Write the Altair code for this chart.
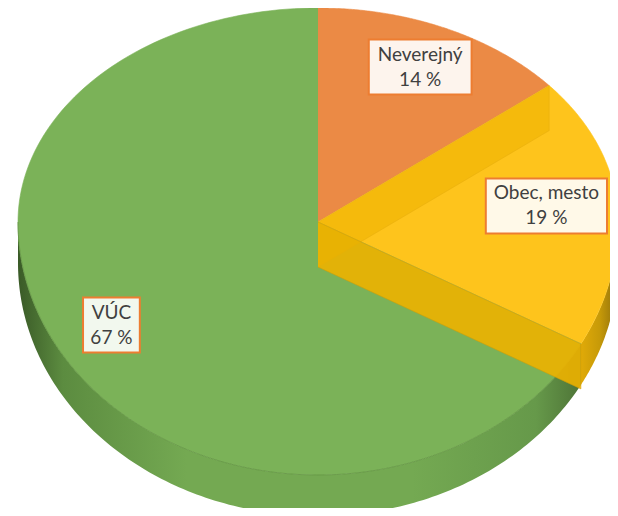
import altair as alt
import pandas as pd

# ---- data ----
categories = ["Neverejný", "Obec, mesto", "VÚC"]
values = [14, 19, 67]
top_colors = ["#eb8a45", "#fec41c", "#7bb258"]

df = pd.DataFrame({"cat": categories, "val": values, "idx": list(range(len(categories)))})

# ---- geometry (pixels, perspective approximated by two half-ellipses) ----
W, H = 602, 500
CX, CY = 310, 214     # pie centre inside the plot area
RX = 300              # horizontal radius
RYT, RYB = 214, 253   # far (top) and near (bottom) vertical radius
D = 41                # depth of the 3-D pie
N = 160               # arc resolution
LR = 0.8              # label radius (fraction)

xdom = [-CX, W - CX]
ydom = [-(H - CY), CY]

X = alt.X("px:Q", scale=alt.Scale(domain=xdom, nice=False, zero=False), axis=None)
Y = alt.Y("py:Q", scale=alt.Scale(domain=ydom, nice=False, zero=False), axis=None)

def ey(angle):
    return f"(cos({angle}) * (cos({angle}) > 0 ? {RYT} : {RYB}))"

def ex(angle):
    return f"({RX} * sin({angle}))"

base = (
    alt.Chart(df)
    .transform_joinaggregate(total="sum(val)")
    .transform_window(cum="sum(val)", frame=[None, 0], sort=[alt.SortField("idx")])
    .transform_calculate(
        s="2*PI*(datum.cum - datum.val)/datum.total",
        e="2*PI*datum.cum/datum.total",
    )
)

# ---- outer side walls (front half only) ----
def side_layer(cat, stops):
    return (
        base.transform_filter(alt.datum.cat == cat)
        .transform_calculate(ss="max(datum.s, PI/2)", ee="min(datum.e, 3*PI/2)")
        .transform_filter("datum.ss < datum.ee")
        .transform_calculate(i=f"sequence(0, {2 * N + 2})")
        .transform_flatten(["i"])
        .transform_calculate(
            a=f"datum.i <= {N} ? datum.ss + (datum.ee - datum.ss)*datum.i/{N} "
              f": datum.ee - (datum.ee - datum.ss)*(datum.i - {N + 1})/{N}"
        )
        .transform_calculate(
            px=ex("datum.a"),
            py=f"{ey('datum.a')} - (datum.i <= {N} ? 0 : {D})",
        )
        .mark_line(
            fill=alt.LinearGradient(
                gradient="linear",
                stops=[alt.GradientStop(color=c, offset=o) for o, c in stops],
                x1=0, x2=1, y1=0, y2=0,
            ),
            strokeWidth=0,
        )
        .encode(x=X, y=Y, order="i:Q")
    )

side_green = side_layer(
    "VÚC",
    [(0, "#3a5a27"), (0.08, "#5c8c40"), (0.3, "#74a952"), (0.7, "#74a952"), (0.92, "#66994a"), (1, "#4e7437")],
)
side_yellow = side_layer(
    "Obec, mesto",
    [(0, "#e0aa08"), (0.5, "#c79a08"), (1, "#8d6e0c")],
)

# ---- top faces ----
top = (
    base.transform_calculate(i=f"sequence(0, {N + 2})")
    .transform_flatten(["i"])
    .transform_calculate(a=f"datum.s + (datum.e - datum.s)*(datum.i - 1)/{N}")
    .transform_calculate(
        px=f"datum.i == 0 ? 0 : {ex('datum.a')}",
        py=f"datum.i == 0 ? 0 : {ey('datum.a')}",
    )
    .mark_line(strokeWidth=0.6)
    .encode(
        x=X,
        y=Y,
        order="i:Q",
        detail="cat:N",
        fill=alt.Fill("cat:N", scale=alt.Scale(domain=categories, range=top_colors), legend=None),
        stroke=alt.Stroke("cat:N", scale=alt.Scale(domain=categories, range=top_colors), legend=None),
    )
)

# front rim line of the top face
rim = (
    base.transform_filter(alt.datum.cat == "VÚC")
    .transform_calculate(ss="max(datum.s, PI/2)", ee="min(datum.e, 3*PI/2)")
    .transform_calculate(i=f"sequence(0, {N + 1})")
    .transform_flatten(["i"])
    .transform_calculate(a=f"datum.ss + (datum.ee - datum.ss)*datum.i/{N}")
    .transform_calculate(px=ex("datum.a"), py=ey("datum.a"))
    .mark_line(stroke="#5f9040", strokeWidth=1, opacity=0.7)
    .encode(x=X, y=Y, order="i:Q")
)

# ---- cut faces of the "Obec, mesto" slice seen through ----
cut = (
    base.transform_filter(alt.datum.cat == "Obec, mesto")
    .transform_calculate(i="sequence(0, 8)")
    .transform_flatten(["i"])
    .transform_calculate(k="floor(datum.i/4)", j="datum.i % 4")
    .transform_calculate(a="datum.k == 0 ? datum.s : datum.e")
    .transform_calculate(
        px=f"(datum.j == 1 || datum.j == 2) ? {ex('datum.a')} : 0",
        py=f"((datum.j == 1 || datum.j == 2) ? {ey('datum.a')} : 0) - ((datum.j >= 2) ? {D + 4} : 0)",
        op="datum.k == 0 ? 0.55 : 0.9",
    )
    .mark_line(fill="#eeb200", stroke="#d9a000", strokeWidth=0.6)
    .encode(
        x=X, y=Y, order="j:Q", detail="k:N",
        opacity=alt.Opacity("op:Q", scale=None),
    )
)

# ---- labels ----
lab = base.transform_calculate(
    m="(datum.s + datum.e)/2",
    pct="round(100*datum.val/datum.total) + ' %'",
).transform_calculate(
    hw="(max(length(datum.cat), length(datum.pct))*9.2 + 20)/2",
    rawx=f"{LR}*{ex('datum.m')}",
    py=f"{LR}*{ey('datum.m')}",
    lines="[datum.cat, datum.pct]",
).transform_calculate(
    # keep each label box inside the chart area
    px=f"clamp(datum.rawx, {-CX + 12} + datum.hw, {W - CX - 3} - datum.hw)",
).transform_calculate(
    bx1="datum.px - datum.hw",
    bx2="datum.px + datum.hw",
    by1="datum.py - 27.5",
    by2="datum.py + 27.5",
)

boxes = lab.mark_rect(fill="white", fillOpacity=0.9, stroke="#ed7d31", strokeWidth=2).encode(
    x=alt.X("bx1:Q", scale=alt.Scale(domain=xdom, nice=False, zero=False), axis=None),
    x2="bx2:Q",
    y=alt.Y("by1:Q", scale=alt.Scale(domain=ydom, nice=False, zero=False), axis=None),
    y2="by2:Q",
)

texts = lab.mark_text(
    font="Lato", fontSize=19, color="#404040", lineHeight=25, baseline="middle",
    align="center", dy=-12.5,
).encode(x=X, y=Y, text=alt.Text("lines:N"))

chart = (
    alt.layer(side_green, side_yellow, top, rim, cut, boxes, texts)
    .properties(width=W, height=H, autosize=alt.AutoSizeParams(type="none"), padding=0)
    .configure_view(stroke=None)
)

chart.save("out.html", embed_options={"renderer": "svg", "actions": False})
